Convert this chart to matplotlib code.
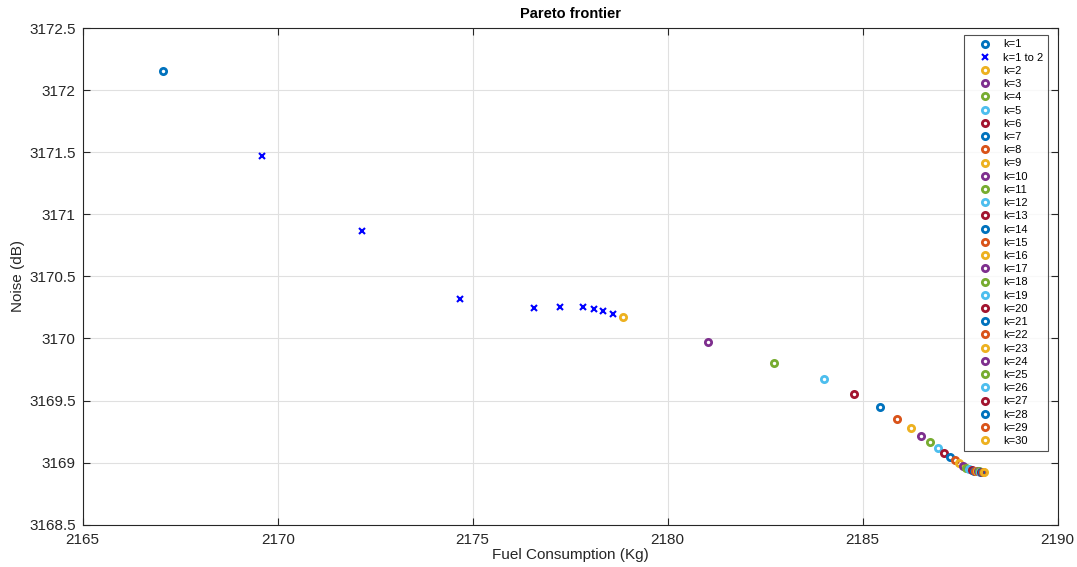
# Pareto frontier: fuel consumption vs noise
import matplotlib
matplotlib.use('Agg')
import matplotlib.pyplot as plt

plt.rcParams['font.family'] = ['Liberation Sans', 'DejaVu Sans']

# 边界上的点 (k=1..30)
fuel_k = [2167.06, 2178.85, 2181.04, 2182.73, 2184.01, 2184.77, 2185.44, 2185.89,
          2186.23, 2186.50, 2186.74, 2186.92, 2187.08, 2187.23, 2187.36, 2187.48,
          2187.58, 2187.66, 2187.74, 2187.80, 2187.85, 2187.89, 2187.93, 2187.96,
          2187.99, 2188.02, 2188.04, 2188.06, 2188.08, 2188.10]
noise_k = [3172.156, 3170.169, 3169.970, 3169.806, 3169.677, 3169.551, 3169.448, 3169.355,
           3169.277, 3169.215, 3169.167, 3169.121, 3169.080, 3169.048, 3169.024, 3168.997,
           3168.975, 3168.956, 3168.946, 3168.940, 3168.936, 3168.933, 3168.931, 3168.930,
           3168.929, 3168.928, 3168.928, 3168.927, 3168.927, 3168.927]

# k=1 到 k=2 之间的点
fuel_12 = [2169.61, 2172.15, 2174.67, 2176.56, 2177.24, 2177.84, 2178.10, 2178.35, 2178.60]
noise_12 = [3171.468, 3170.865, 3170.320, 3170.242, 3170.250, 3170.250, 3170.234, 3170.218, 3170.194]

# MATLAB 默认颜色顺序
colors = [(0, 0.447, 0.741), (0.850, 0.325, 0.098), (0.929, 0.694, 0.125),
          (0.494, 0.184, 0.556), (0.466, 0.674, 0.188), (0.301, 0.745, 0.933),
          (0.635, 0.078, 0.184)]

fig = plt.figure(figsize=(10.77, 5.67), dpi=100)
ax = fig.add_axes([0.0768, 0.0746, 0.9052, 0.8760])

idx = 0
for k in range(len(fuel_k)):
    ax.plot(fuel_k[k], noise_k[k], 'o', color=colors[idx % 7], markerfacecolor='none',
            markersize=4.5, markeredgewidth=2, label=f'k={k + 1}')
    idx += 1
    if k == 0:
        ax.plot(fuel_12, noise_12, 'x', color='blue', markersize=4.5,
                markeredgewidth=1.5, label='k=1 to 2')
        idx += 1

ax.set_xlim(2165, 2190)
ax.set_ylim(3168.5, 3172.5)
ax.set_xticks([2165, 2170, 2175, 2180, 2185, 2190])
ax.set_yticks([3168.5, 3169, 3169.5, 3170, 3170.5, 3171, 3171.5, 3172, 3172.5])
ax.set_yticklabels(['3168.5', '3169', '3169.5', '3170', '3170.5', '3171', '3171.5', '3172', '3172.5'])
ax.tick_params(direction='in', length=5, labelsize=11, colors='0.15', width=0.8,
               top=True, right=True)
ax.tick_params(axis='x', pad=6)
ax.tick_params(axis='y', pad=5)
ax.grid(True, color='0.88', linewidth=0.8)
ax.set_axisbelow(True)
for s in ax.spines.values():
    s.set_color('0.15')
    s.set_linewidth(0.8)

ax.set_title('Pareto frontier', fontsize=10.5, fontweight='bold', pad=7)
ax.set_xlabel('Fuel Consumption (Kg)', fontsize=11, labelpad=1, color='0.15')
ax.set_ylabel('Noise (dB)', fontsize=11, labelpad=3, color='0.15')

leg = ax.legend(loc='upper right', bbox_to_anchor=(0.990, 0.986), fontsize=8,
                frameon=True, fancybox=False, edgecolor='0.15', borderaxespad=0,
                labelspacing=0.29, handlelength=3.0, handletextpad=0.15,
                borderpad=0.4, numpoints=1)
leg.get_frame().set_linewidth(0.8)

fig.savefig('out.png', dpi=100)
